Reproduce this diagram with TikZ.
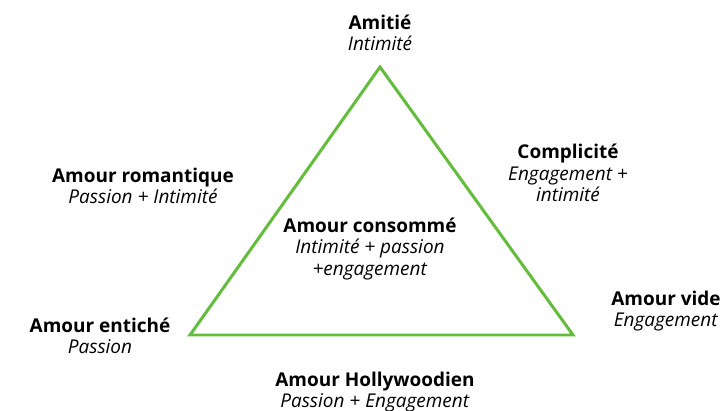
\documentclass[tikz,border=0pt]{standalone}
\usepackage{fontspec}
\setmainfont{Open Sans}
\definecolor{trigreen}{RGB}{98,190,58}
\tikzset{
    lbl/.style={align=center, inner sep=0pt, font=\fontsize{10.8}{12.3}\selectfont},
}
\begin{document}
\begin{tikzpicture}[x=0.02cm,y=-0.02cm]
                \useasboundingbox (0,0) rectangle (728,411);
                \coordinate (top) at (380,67);
                \coordinate (left) at (190,335);
                \coordinate (right) at (573,335);
                \draw[trigreen, line width=1.7pt, line join=miter] (top) -- (right) -- (left) -- cycle;

                \node[lbl] (amitie) at (380,33) {\textbf{Amitié}\\\textit{Intimité}};
                \node[lbl] (romantique) at (143,186) {\textbf{Amour romantique}\\\textit{Passion + Intimité}};
                \node[lbl] (complicite) at (568,173) {\textbf{Complicité}\\\textit{Engagement +}\\\textit{intimité}};
                \node[lbl] (consomme) at (370,249) {\textbf{Amour consommé}\\\textit{Intimité + passion}\\\textit{+engagement}};
                \node[lbl] (entiche) at (100,336) {\textbf{Amour entiché}\\\textit{Passion}};
                \node[lbl] (vide) at (666,311) {\textbf{Amour vide}\\\textit{Engagement}};
                \node[lbl] (hollywood) at (375,392) {\textbf{Amour Hollywoodien}\\\textit{Passion + Engagement}};
            \end{tikzpicture}
\end{document}
